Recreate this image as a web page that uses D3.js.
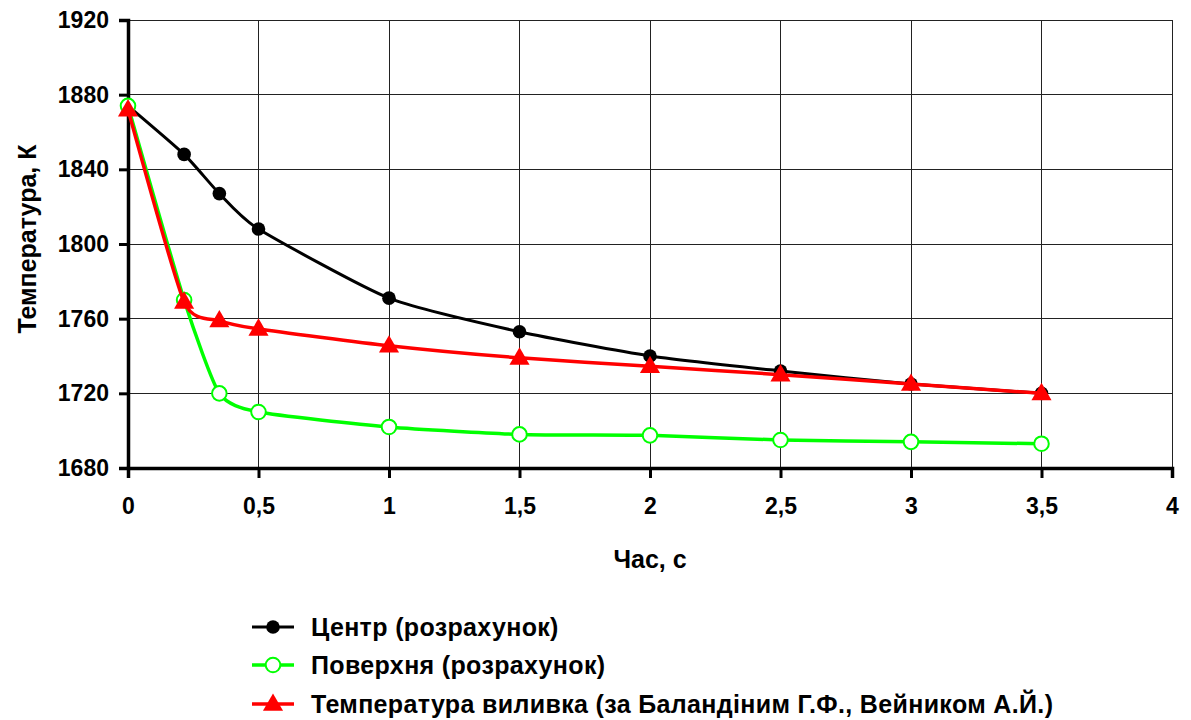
<!DOCTYPE html>
<html>
<head>
<meta charset="utf-8">
<script src="https://cdn.jsdelivr.net/npm/d3@7"></script>
<style>
  html, body { margin: 0; padding: 0; background: #fff; }
  svg text { font-family: "Liberation Sans", Arial, sans-serif; font-weight: bold; fill: #000; }
</style>
</head>
<body>
<svg id="chart" width="1191" height="720"></svg>
<script>
// Time, s
const timeCentre  = [0, 0.215, 0.35, 0.5, 1, 1.5, 2, 2.5, 3, 3.5];
const timeSurface = [0, 0.215, 0.35, 0.5, 1, 1.5, 2, 2.5, 3, 3.5];
const timeCasting = [0, 0.215, 0.35, 0.5, 1, 1.5, 2, 2.5, 3, 3.5];

// Temperature, K
const tempCentre  = [1874, 1848, 1827, 1808, 1771, 1753, 1740, 1732, 1725, 1720];
const tempSurface = [1874, 1770, 1720, 1710, 1702, 1698, 1697.5, 1695, 1694, 1693];
const tempCasting = [1872, 1769, 1759, 1754.5, 1745.5, 1739, 1734.5, 1730, 1725, 1720];

const xTicks = [0, 0.5, 1, 1.5, 2, 2.5, 3, 3.5, 4];
const yTicks = [1680, 1720, 1760, 1800, 1840, 1880, 1920];

const seriesNames = [
  "Центр (розрахунок)",
  "Поверхня (розрахунок)",
  "Температура виливка (за Баландіним Г.Ф., Вейником А.Й.)"
];
const xTitle = "Час, с";
const yTitle = "Температура, К";

const svg = d3.select("#chart");
const plotL = 128, plotR = 1172, plotT = 20, plotB = 468;

const x = d3.scaleLinear().domain([0, 4]).range([plotL, plotR]);
const y = d3.scaleLinear().domain([1680, 1920]).range([plotB, plotT]);

const fmt = d => String(d).replace(".", ",");

// grid
const grid = svg.append("g").attr("shape-rendering", "crispEdges");
grid.selectAll("line.h").data(yTicks.slice(1)).join("line")
  .attr("x1", plotL).attr("x2", plotR)
  .attr("y1", d => y(d)).attr("y2", d => y(d))
  .attr("stroke", "#222").attr("stroke-width", 1);
grid.selectAll("line.v").data(xTicks.slice(1)).join("line")
  .attr("y1", plotT).attr("y2", plotB)
  .attr("x1", d => x(d)).attr("x2", d => x(d))
  .attr("stroke", "#222").attr("stroke-width", 1);

// axes
const yAxis = svg.append("g").attr("transform", `translate(${plotL},0)`)
  .call(d3.axisLeft(y).tickValues(yTicks).tickSize(9).tickPadding(10).tickFormat(fmt));
const xAxis = svg.append("g").attr("transform", `translate(0,${plotB})`)
  .call(d3.axisBottom(x).tickValues(xTicks).tickSize(10).tickPadding(20).tickFormat(fmt));

[yAxis, xAxis].forEach(g => {
  g.select(".domain").attr("stroke", "#000").attr("stroke-width", 3.5);
  g.selectAll(".tick line").attr("stroke", "#000").attr("stroke-width", 3);
  g.selectAll(".tick text").attr("font-size", 23).attr("font-family", "Liberation Sans, Arial, sans-serif").attr("font-weight", "bold").attr("fill", "#000");
});

// titles
svg.append("text").attr("x", (plotL + plotR) / 2).attr("y", 568)
  .attr("text-anchor", "middle").attr("font-size", 25).text(xTitle);
svg.append("text").attr("transform", `translate(36,${(plotT + plotB) / 2 - 5}) rotate(-90)`)
  .attr("text-anchor", "middle").attr("font-size", 25).text(yTitle);

// series
const series = [
  { t: timeCentre,  v: tempCentre,  color: "#000",    width: 3,   marker: "dot" },
  { t: timeSurface, v: tempSurface, color: "#00ff00", width: 3.5, marker: "ring" },
  { t: timeCasting, v: tempCasting, color: "#ff0000", width: 3.5, marker: "tri" }
];

const line = d3.line().x(d => x(d[0])).y(d => y(d[1])).curve(d3.curveCardinal.tension(0.4));
const triangle = d3.symbol().type(d3.symbolTriangle).size(175);

function drawMarker(g, cx, cy, s) {
  if (s.marker === "dot") {
    g.append("circle").attr("cx", cx).attr("cy", cy).attr("r", 6.8).attr("fill", "#000");
  } else if (s.marker === "ring") {
    g.append("circle").attr("cx", cx).attr("cy", cy).attr("r", 7.3).attr("fill", "#fff")
      .attr("stroke", s.color).attr("stroke-width", 2);
  } else {
    g.append("path").attr("d", triangle()).attr("transform", `translate(${cx},${cy + 1})`)
      .attr("fill", s.color);
  }
}

series.forEach(s => {
  const pts = s.t.map((t, i) => [t, s.v[i]]);
  const g = svg.append("g");
  g.append("path").datum(pts).attr("d", line).attr("fill", "none")
    .attr("stroke", s.color).attr("stroke-width", s.width).attr("stroke-linejoin", "round");
  pts.forEach(p => drawMarker(g, x(p[0]), y(p[1]), s));
});

// legend
const legendY = [627, 665, 704];
series.forEach((s, i) => {
  const g = svg.append("g");
  g.append("line").attr("x1", 252).attr("x2", 294).attr("y1", legendY[i]).attr("y2", legendY[i])
    .attr("stroke", s.color).attr("stroke-width", s.width);
  drawMarker(g, 273, legendY[i], s);
  g.append("text").attr("x", 311).attr("y", legendY[i] + 9).attr("font-size", 25)
    .attr("letter-spacing", 0.35).text(seriesNames[i]);
});
</script>
</body>
</html>
